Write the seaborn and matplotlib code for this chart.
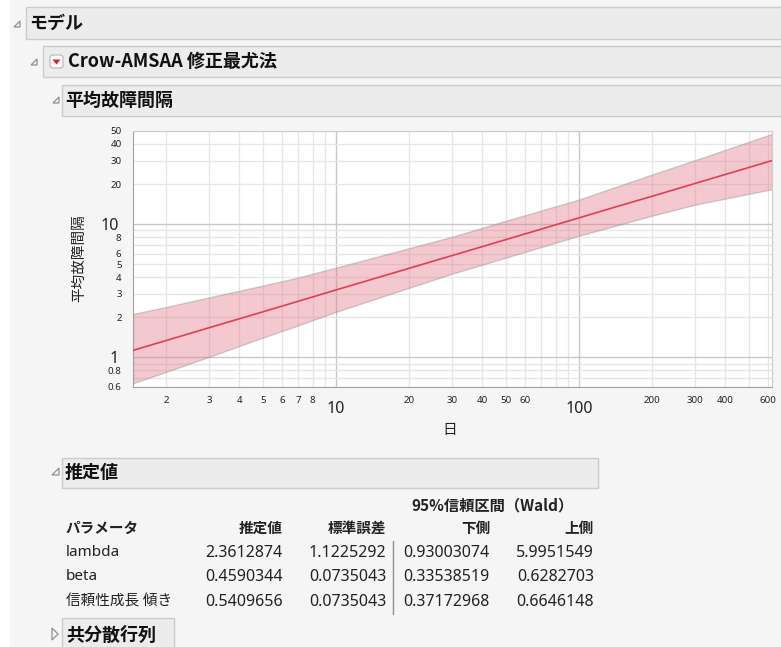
import numpy as np
import pandas as pd
import matplotlib
matplotlib.use("Agg")
import matplotlib.pyplot as plt
import seaborn as sns
from matplotlib.patches import Rectangle, Polygon, FancyBboxPatch
from matplotlib.lines import Line2D

W, H = 781, 647

# MTBF curve and 95% band
days = [1.46, 2, 3, 5, 6.8, 10, 30, 50, 100, 140, 200, 300, 622]
mtbf = [1.13, 1.34, 1.67, 2.20, 2.60, 3.21, 5.81, 7.66, 11.15, 13.4, 16.2, 20.2, 30.0]
mtbf_upper = [2.12, 2.39, 2.82, 3.46, 3.93, 4.72, 8.04, 10.6, 15.3, 18.9, 23.6, 30.2, 47.5]
mtbf_lower = [0.64, 0.78, 1.01, 1.41, 1.71, 2.20, 4.25, 5.61, 8.2, 9.7, 11.6, 14.0, 18.3]

x_major = [10, 100]
x_minor = [2, 3, 4, 5, 6, 7, 8, 9, 20, 30, 40, 50, 60, 70, 80, 90, 200, 300, 400, 500, 600]
x_minor_labels = ["2", "3", "4", "5", "6", "7", "8", "", "20", "30", "40", "50", "60",
                  "", "", "", "200", "300", "400", "", "600"]
y_major = [1, 10]
y_minor = [0.6, 0.7, 0.8, 0.9, 2, 3, 4, 5, 6, 7, 8, 9, 20, 30, 40, 50]
y_minor_labels = ["0.6", "", "0.8", "", "2", "3", "4", "5", "6", "", "8", "", "20", "30", "40", "50"]

# estimates table
params = ["lambda", "beta", "信頼性成長 傾き"]
estimate = ["2.3612874", "0.4590344", "0.5409656"]
std_err = ["1.1225292", "0.0735043", "0.0735043"]
ci_lower = ["0.93003074", "0.33538519", "0.37172968"]
ci_upper = ["5.9951549", "0.6282703", "0.6646148"]

sns.set_style("white")
plt.rcParams['font.family'] = ['Noto Sans', 'Noto Sans CJK JP', 'DejaVu Sans']
CJK = ['Noto Sans CJK JP', 'DejaVu Sans']

fig = plt.figure(figsize=(W / 100, H / 100), dpi=100)
fig.patch.set_facecolor('#f5f5f5')


def px(x, y):
    return x / W, 1 - y / H


def add_box(x0, y0, x1, y1):
    fig.patches.append(Rectangle(px(x0, y1), (x1 - x0) / W, (y1 - y0) / H,
                                 transform=fig.transFigure, facecolor='#ececec',
                                 edgecolor='#cccccc', lw=1))


def add_poly(points, **kw):
    fig.patches.append(Polygon([px(x, y) for x, y in points], closed=True,
                               transform=fig.transFigure, **kw))


def corner_tri(x0, y0, x1, y1):
    add_poly([(x0, y1), (x1, y1), (x1, y0)], facecolor='none', edgecolor='#909090', lw=0.9)


def header(x, y, s):
    fig.text(*px(x, y), s, fontsize=13, fontweight='bold', va='center', family=CJK, color='#111111')


# white strip on the far left
fig.patches.append(Rectangle((0, 0), 9 / W, 1, transform=fig.transFigure, color='white'))

# outline headers
add_box(26, 7, W + 2, 39)
corner_tri(14, 21, 20, 27)
header(29, 23, "モデル")

add_box(43, 46, W + 2, 77)
corner_tri(31, 59, 37, 65)
fig.patches.append(FancyBboxPatch(px(50, 68), 13 / W, 13 / H, boxstyle="round,pad=0,rounding_size=0.004",
                                  transform=fig.transFigure, facecolor='#fbfbfb',
                                  edgecolor='#b5b5b5', lw=0.8))
add_poly([(52.5, 59.5), (60.5, 59.5), (56.5, 64.5)], facecolor='#d42030', edgecolor='none')
header(68, 61.5, "Crow-AMSAA 修正最尤法")

add_box(62, 85, W + 2, 116)
corner_tri(53, 97, 59, 103)
header(65, 100, "平均故障間隔")

# plot
ax = fig.add_axes([133 / W, 1 - 387 / H, (772 - 133) / W, (387 - 131) / H])
ax.set_facecolor('white')
df = pd.DataFrame({"日": days, "平均故障間隔": mtbf, "lower": mtbf_lower, "upper": mtbf_upper})
ax.set_xscale('log')
ax.set_yscale('log')
ax.fill_between(df["日"], df["lower"], df["upper"], facecolor='#e37a88', alpha=0.4,
                edgecolor='#8c8c8c', lw=1, zorder=2)
sns.lineplot(data=df, x="日", y="平均故障間隔", color='#e0404e', lw=1.2, ax=ax, zorder=3)
ax.set_xlim(1.46, 622)
ax.set_ylim(0.6, 50)

ax.set_xticks(x_major, labels=[str(v) for v in x_major])
ax.set_xticks(x_minor, labels=x_minor_labels, minor=True)
ax.set_yticks(y_major, labels=[str(v) for v in y_major])
ax.set_yticks(y_minor, labels=y_minor_labels, minor=True)

ax.tick_params(axis='both', which='both', length=5, width=1, color='#a0a0a0', labelcolor='#222222')
ax.tick_params(axis='x', which='major', labelsize=11.5, pad=5)
ax.tick_params(axis='x', which='minor', labelsize=7, pad=1.5)
ax.tick_params(axis='y', which='major', labelsize=11.5, pad=5.5)
ax.tick_params(axis='y', which='minor', labelsize=7, pad=3.2)

ax.grid(True, which='major', color='#c8c8c8', lw=1)
ax.grid(True, which='minor', color='#e6e6e6', lw=1)
ax.set_axisbelow(True)

for side in ['left', 'bottom']:
    ax.spines[side].set_color('#a0a0a0')
for side in ['top', 'right']:
    ax.spines[side].set_color('#cccccc')

ax.set_xlabel("")
ax.set_ylabel("")
fig.text(*px(450, 430), "日", fontsize=10.5, ha='center', va='center', color='#222222', family=CJK)
fig.text(*px(79, 258), "平均故障間隔", fontsize=10.5, rotation=90, ha='center', va='center',
         color='#222222', family=CJK)

# estimates section
add_box(62, 458, 598, 488)
corner_tri(52, 468, 59, 475)
header(65, 472, "推定値")

fig.text(*px(493, 505), "95%信頼区間（Wald）", fontsize=11, fontweight='bold',
         ha='center', va='center', color='#222222', family=CJK)

col_right = [283, 386, 490, 594]
headers = ["推定値", "標準誤差", "下側", "上側"]
fig.text(*px(66, 528), "パラメータ", fontsize=10.5, fontweight='bold', va='center',
         color='#222222', family=CJK)
for xr, h in zip(col_right, headers):
    fig.text(*px(xr, 528), h, fontsize=10.5, fontweight='bold', ha='right', va='center',
             color='#222222', family=CJK)

row_y = [553, 577, 602]
for i, y in enumerate(row_y):
    fig.text(*px(66, y), params[i], fontsize=11 if i < 2 else 10.5, va='center', color='#222222')
    for xr, col in zip(col_right, [estimate, std_err, ci_lower, ci_upper]):
        fig.text(*px(xr, y), col[i], fontsize=11.5, ha='right', va='center', color='#222222')

fig.lines.append(Line2D([393 / W, 393 / W], [1 - 541 / H, 1 - 614 / H],
                        transform=fig.transFigure, color='#909090', lw=1))

# collapsed covariance section
add_box(62, 618, 174, 652)
add_poly([(52, 628), (58, 634), (52, 640)], facecolor='none', edgecolor='#909090', lw=0.9)
header(66, 635, "共分散行列")

fig.savefig("out.png", dpi=100, facecolor=fig.get_facecolor())
plt.close(fig)
